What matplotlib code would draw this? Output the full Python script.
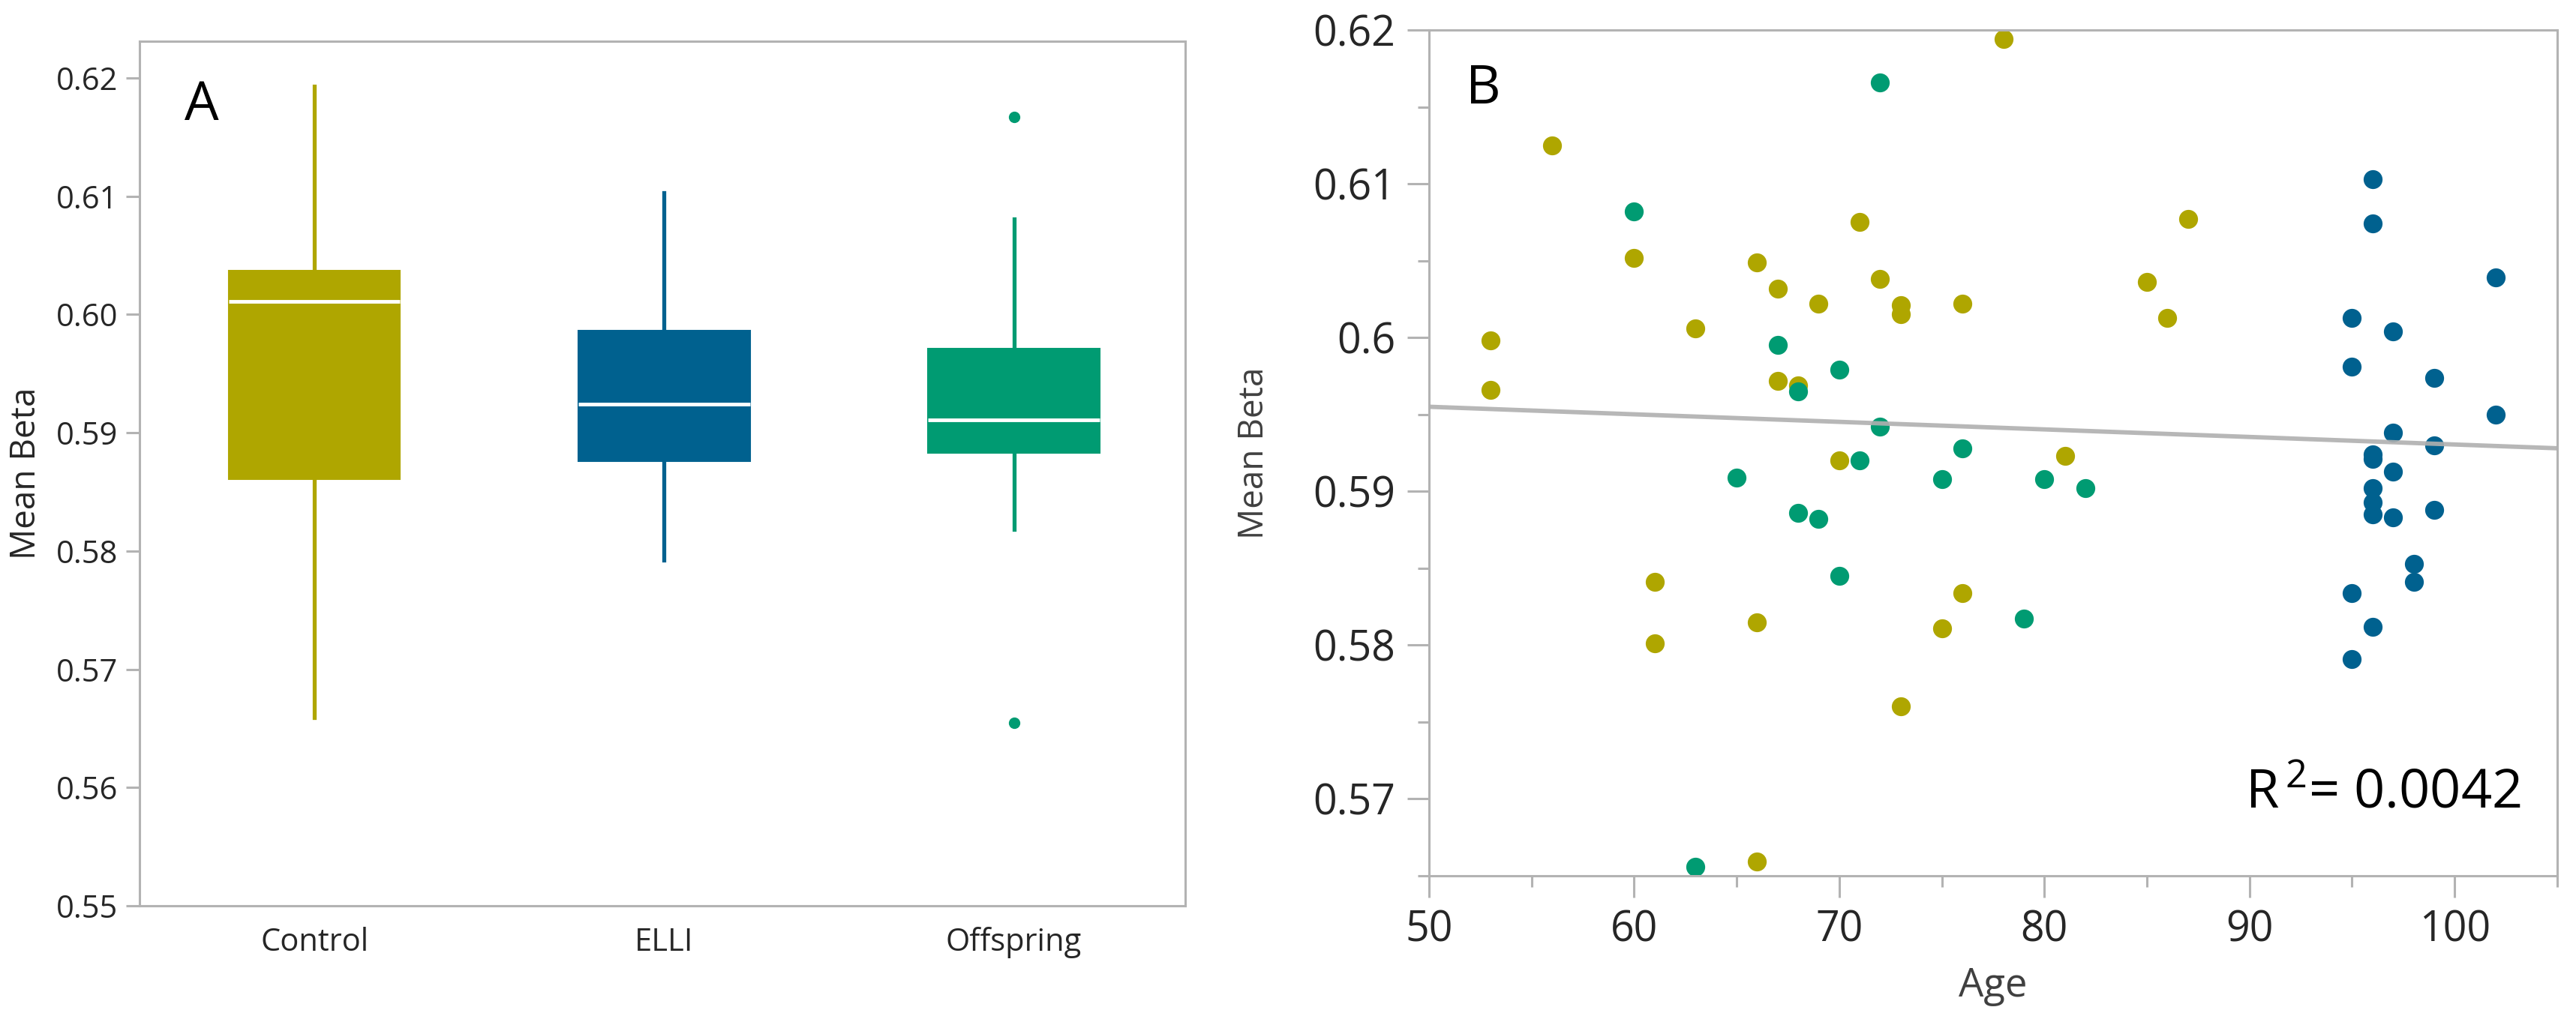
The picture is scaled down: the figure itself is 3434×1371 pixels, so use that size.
import matplotlib
matplotlib.use('Agg')
import matplotlib.pyplot as plt
from matplotlib.ticker import MultipleLocator, FormatStrFormatter, FuncFormatter

plt.rcParams['font.family'] = ['Open Sans', 'DejaVu Sans']
plt.rcParams['mathtext.default'] = 'regular'

# colours of the three groups
group_names = ['Control', 'ELLI', 'Offspring']
group_colors = ['#AFA600', '#00618F', '#009B72']

# panel A: box statistics
box_whislo = [0.5659, 0.5792, 0.5818]
box_q1 = [0.5861, 0.5876, 0.5883]
box_med = [0.6011, 0.5924, 0.5911]
box_q3 = [0.6037, 0.5986, 0.5971]
box_whishi = [0.6193, 0.6103, 0.6081]
box_fliers = [[], [], [0.5655, 0.6167]]

# panel B: age vs mean beta per group
control_age = [53, 53, 56, 60, 61, 61, 63, 66, 66, 66, 67, 67, 68, 69, 70, 71,
               72, 73, 73, 73, 75, 76, 76, 78, 81, 85, 86, 87]
control_beta = [0.5998, 0.5966, 0.6125, 0.6052, 0.5841, 0.5801, 0.6006, 0.6049,
                0.5815, 0.5659, 0.6032, 0.5972, 0.5969, 0.6022, 0.5920, 0.6075,
                0.6038, 0.6021, 0.6015, 0.5760, 0.5811, 0.6022, 0.5834, 0.6194,
                0.5923, 0.6036, 0.6013, 0.6077]

elli_age = [95, 95, 95, 95, 96, 96, 96, 96, 96, 96, 96, 96, 97, 97, 97, 97,
            98, 98, 99, 99, 99, 102, 102]
elli_beta = [0.6013, 0.5981, 0.5834, 0.5791, 0.6103, 0.6074, 0.5924, 0.5921,
             0.5902, 0.5893, 0.5885, 0.5812, 0.6004, 0.5938, 0.5913, 0.5883,
             0.5853, 0.5841, 0.5974, 0.5930, 0.5888, 0.6039, 0.5950]

offspring_age = [60, 63, 65, 67, 68, 68, 69, 70, 70, 71, 72, 72, 75, 76, 79, 80, 82]
offspring_beta = [0.6082, 0.5656, 0.5909, 0.5995, 0.5965, 0.5886, 0.5882, 0.5979,
                  0.5845, 0.5920, 0.6166, 0.5942, 0.5908, 0.5928, 0.5817, 0.5908,
                  0.5902]

# fitted line, read at the two ends of the axis
fit_age = [50, 105]
fit_beta = [0.5955, 0.5928]
r2_text = 'R$^{\\,2}$= 0.0042'

spine_gray = '#b3b3b3'
text_col = '#262626'

fig = plt.figure(figsize=(34.34, 13.71), dpi=100)

# ---------- panel A ----------
axA = fig.add_axes([0.0542, 0.1189, 0.4059, 0.8410])
stats = []
for i in range(3):
    stats.append({'whislo': box_whislo[i], 'q1': box_q1[i], 'med': box_med[i],
                  'q3': box_q3[i], 'whishi': box_whishi[i], 'fliers': box_fliers[i]})
bp = axA.bxp(stats, positions=range(3), widths=0.49, patch_artist=True,
             showcaps=False, showfliers=True)
for i, c in enumerate(group_colors):
    bp['boxes'][i].set_facecolor(c)
    bp['boxes'][i].set_edgecolor(c)
    bp['boxes'][i].set_linewidth(1.5)
    bp['medians'][i].set_color('white')
    bp['medians'][i].set_linewidth(3.5)
    for w in bp['whiskers'][2 * i:2 * i + 2]:
        w.set_color(c)
        w.set_linewidth(3.8)
    bp['fliers'][i].set_marker('o')
    bp['fliers'][i].set_markerfacecolor(c)
    bp['fliers'][i].set_markeredgecolor(c)
    bp['fliers'][i].set_markersize(10)

axA.set_xlim(-0.5, 2.49)
axA.set_ylim(0.55, 0.6231)
axA.set_yticks([0.55, 0.56, 0.57, 0.58, 0.59, 0.60, 0.61, 0.62])
axA.yaxis.set_major_formatter(FormatStrFormatter('%.2f'))
axA.set_xticks(range(3))
axA.set_xticklabels(group_names)
axA.tick_params(axis='y', length=13, width=2.2, color=spine_gray, labelsize=30,
                labelcolor=text_col, pad=8)
axA.tick_params(axis='x', length=0, labelsize=30, labelcolor=text_col, pad=20)
for s in axA.spines.values():
    s.set_color(spine_gray)
    s.set_linewidth(2.2)
axA.set_ylabel('Mean Beta', fontsize=33, color=text_col, labelpad=12)
axA.text(0.043, 0.925, 'A', transform=axA.transAxes, fontsize=52,
         color='black', ha='left', va='center')

# ---------- panel B ----------
axB = fig.add_axes([0.5547, 0.1481, 0.4380, 0.8227])
axB.scatter(control_age, control_beta, s=330, color=group_colors[0], linewidths=0, zorder=2)
axB.scatter(offspring_age, offspring_beta, s=330, color=group_colors[2], linewidths=0, zorder=2)
axB.scatter(elli_age, elli_beta, s=330, color=group_colors[1], linewidths=0, zorder=2)
axB.plot(fit_age, fit_beta, color='#b0b0b0', linewidth=4.2, alpha=0.9, zorder=3)

axB.set_xlim(50, 105)
axB.set_ylim(0.565, 0.62)
axB.xaxis.set_major_locator(MultipleLocator(10))
axB.xaxis.set_minor_locator(MultipleLocator(5))
axB.yaxis.set_major_locator(MultipleLocator(0.01))
axB.yaxis.set_minor_locator(MultipleLocator(0.005))
axB.yaxis.set_major_formatter(FuncFormatter(lambda v, p: ('%.2f' % v).rstrip('0')))
axB.tick_params(which='major', length=21, width=2.2, color=spine_gray,
                labelsize=40, labelcolor=text_col, pad=11)
axB.tick_params(which='minor', length=11, width=2.2, color=spine_gray)
for s in axB.spines.values():
    s.set_color(spine_gray)
    s.set_linewidth(2.2)
axB.set_xlabel('Age', fontsize=38, color='#404040', labelpad=14)
axB.set_ylabel('Mean Beta', fontsize=33, color='#404040', labelpad=40)
axB.text(0.033, 0.93, 'B', transform=axB.transAxes, fontsize=52,
         color='black', ha='left', va='center')
axB.text(0.968, 0.08, r2_text, transform=axB.transAxes, fontsize=52,
         color='black', ha='right', va='baseline')

fig.savefig('out.png', dpi=100)
